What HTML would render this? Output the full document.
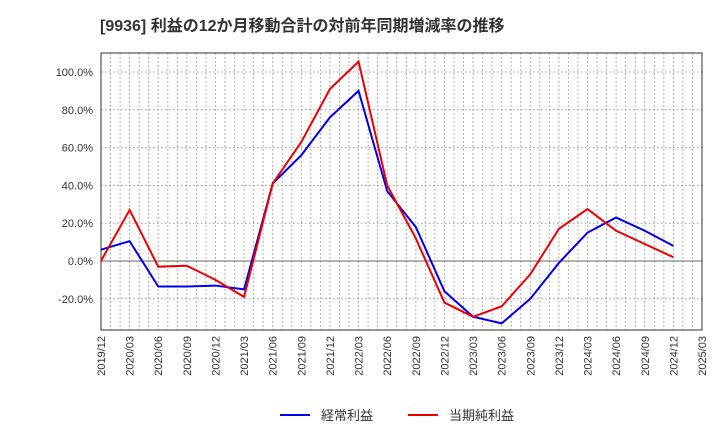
<!DOCTYPE html>
<html><head><meta charset="utf-8"><style>
body{margin:0;background:#fff;font-family:"Liberation Sans","Noto Sans CJK JP",sans-serif}
</style></head><body>
<svg id="c" width="720" height="440" xmlns="http://www.w3.org/2000/svg">
<text x="100" y="31" font-size="16" font-weight="bold" fill="#333" font-family="Liberation Sans,Noto Sans CJK JP,sans-serif">[9936]  利益の12か月移動合計の対前年同期増減率の推移</text>
</svg>
<script>
const categories=["2019/12","2020/03","2020/06","2020/09","2020/12","2021/03","2021/06","2021/09","2021/12","2022/03","2022/06","2022/09","2022/12","2023/03","2023/06","2023/09","2023/12","2024/03","2024/06","2024/09","2024/12","2025/03"];
const ordinaryProfit=[6,10.5,-13.5,-13.5,-13,-15,41,56,76,90,37,18,-16,-29.5,-33,-20,-1,15,23,16,8];
const netProfit=[0,27,-3,-2.5,-10,-19,41,63,91,105.5,40,12,-22,-29.5,-24,-7,17,27.5,16,9,2];
const yTicks=[-20,0,20,40,60,80,100];
const L=101,R=702,T=53,B=330;
const svg=document.getElementById('c');const NS='http://www.w3.org/2000/svg';
const x=i=>L+(R-L)*i/(categories.length-1);
const y=v=>261-v*(261-72)/100;
function mk(t,a,p){const e=document.createElementNS(NS,t);for(const k in a)e.setAttribute(k,a[k]);(p||svg).appendChild(e);return e;}
const months=(categories.length-1)*3;
for(let m=1;m<months;m++){const xx=L+(R-L)*m/months;
const g=mk('line',{x1:xx,x2:xx,y1:T,y2:B,stroke:'#999','stroke-dasharray':'1.5,2.5','stroke-width':1});

}
yTicks.forEach(v=>{const g=mk('line',{x1:L,x2:R,y1:y(v),y2:y(v),stroke:'#999','stroke-dasharray':'1.5,2.5'});


const t=mk('text',{x:L-8,y:y(v)+4,'text-anchor':'end','font-size':11,fill:'#333'});t.textContent=v.toFixed(1)+'%';

});
const z=mk('line',{x1:L,x2:R,y1:y(0),y2:y(0),stroke:'#666','stroke-width':1});


const fr=mk('rect',{x:L,y:T,width:R-L,height:B-T,fill:'none',stroke:'#333'});


categories.forEach((c,i)=>{const t=mk('text',{transform:`translate(${x(i)+4},${B+6}) rotate(-90)`,'text-anchor':'end','font-size':11,fill:'#333'});t.textContent=c;

});
function line(d,col,n){const p=mk('polyline',{points:d.map((v,i)=>x(i)+','+y(v)).join(' '),fill:'none',stroke:col,'stroke-width':2});

}
line(ordinaryProfit,'#0000ee','ordinary-profit-line');
line(netProfit,'#ee0000','net-profit-line');
[[280,'#0000ee','経常利益','legend-ordinary-profit'],[408,'#ee0000','当期純利益','legend-net-profit']].forEach(([lx,col,lab,n])=>{
const g=mk('g',{});

mk('line',{x1:lx,x2:lx+30,y1:415,y2:415,stroke:col,'stroke-width':2},g);
const t=mk('text',{x:lx+41,y:420,'font-size':13,fill:'#333'},g);t.textContent=lab;});
</script>
</body></html>
